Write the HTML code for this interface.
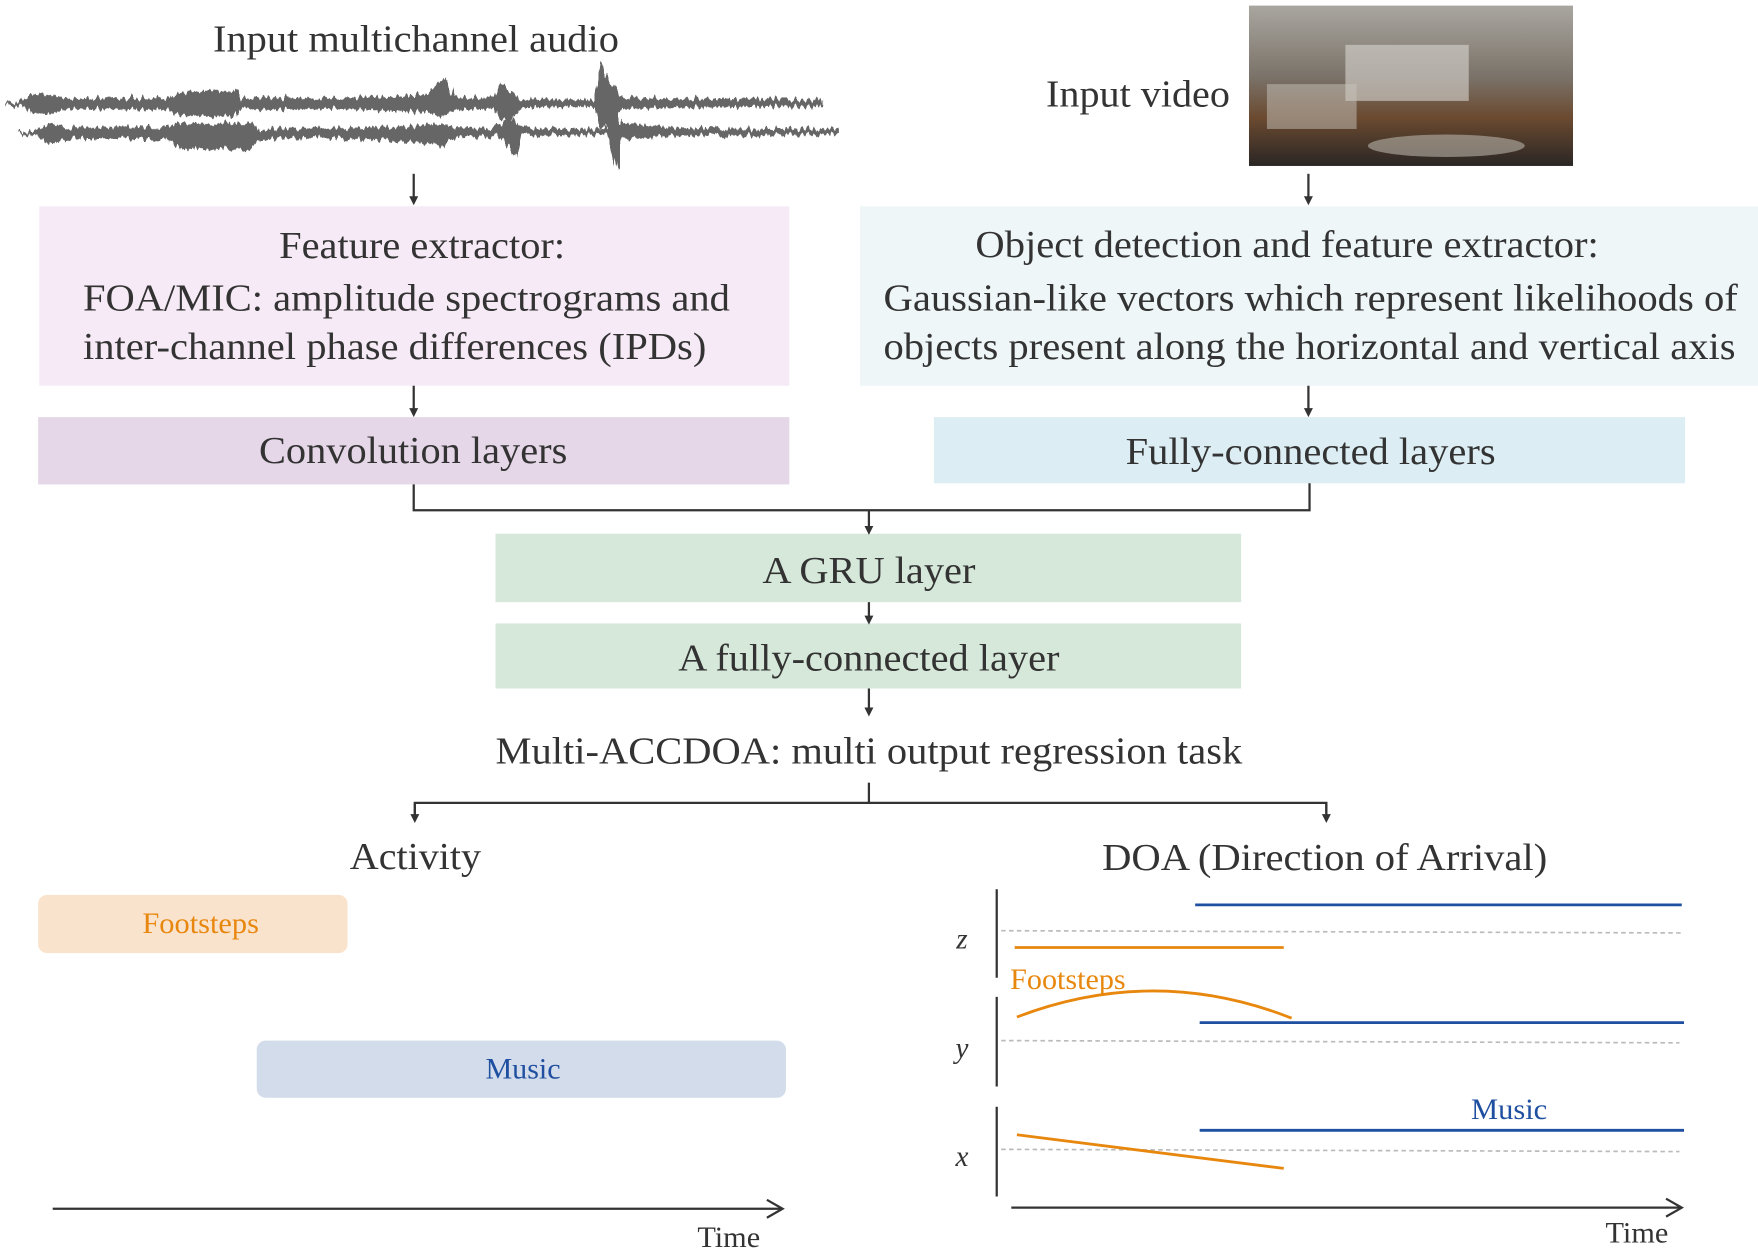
<!DOCTYPE html>
<html><head><meta charset="utf-8"><style>html,body{margin:0;padding:0;background:#fff}svg{display:block}</style></head><body>
<svg width="1758" height="1257" viewBox="0 0 1568 1121" preserveAspectRatio="none" xmlns="http://www.w3.org/2000/svg" font-family="Liberation Serif, serif">
<defs>
<marker id="ah" markerWidth="10" markerHeight="10" refX="5" refY="5" orient="auto" markerUnits="userSpaceOnUse"><path d="M0,1 L8,5 L0,9 Z" fill="#333"/></marker>
<linearGradient id="vid" x1="0" y1="0" x2="0" y2="1"><stop offset="0" stop-color="#a9a6a0"/><stop offset="0.45" stop-color="#7a7268"/><stop offset="0.7" stop-color="#6b4a30"/><stop offset="1" stop-color="#2a2624"/></linearGradient>
<filter id="jag" x="-5%" y="-50%" width="110%" height="200%"><feTurbulence type="fractalNoise" baseFrequency="0.35 0.02" numOctaves="2" seed="3"/><feDisplacementMap in="SourceGraphic" scale="10" xChannelSelector="R" yChannelSelector="G"/></filter>
</defs>
<g fill="#333" font-size="34" text-anchor="middle">
<text x="371" y="46" textLength="362" lengthAdjust="spacingAndGlyphs">Input multichannel audio</text>
<text x="1015" y="95" textLength="164" lengthAdjust="spacingAndGlyphs">Input video</text>
</g>
<!-- waveform -->
<g fill="#666" filter="url(#jag)">
<polygon points="5,92 20,90 30,84 45,83 60,88 150,87 160,82 210,81 215,89 230,87 300,88 350,86 380,84 395,70 405,86 440,88 445,74 455,80 465,89 530,89 535,55 545,75 555,87 600,88 735,89 735,95 600,96 555,97 545,110 535,115 530,95 465,96 455,110 445,105 440,97 405,98 395,104 380,100 350,99 300,97 230,98 215,96 210,104 160,103 150,98 60,97 45,102 30,101 20,95 5,94"/>
<polygon points="18,117 30,116 45,111 60,114 150,113 160,110 225,110 230,115 300,114 360,113 395,110 405,114 440,115 455,105 465,114 540,115 545,85 555,110 600,114 750,115 750,120 600,121 555,125 550,150 545,135 540,120 465,121 460,140 455,133 445,122 405,123 395,130 360,126 300,123 230,124 225,133 160,133 150,124 60,124 45,130 30,120 18,119"/>
</g>
<rect x="1114" y="5" width="289" height="143" fill="url(#vid)"/>
<rect x="1200" y="40" width="110" height="50" fill="#d8d6d0" opacity="0.6"/>
<rect x="1130" y="75" width="80" height="40" fill="#c8c4bc" opacity="0.5"/>
<ellipse cx="1290" cy="130" rx="70" ry="10" fill="#b8b2a8" opacity="0.6"/>
<!-- boxes -->
<rect x="35" y="184" width="669" height="160" fill="#f5eaf5"/>
<rect x="767" y="184" width="801" height="160" fill="#eef6f8"/>
<rect x="34" y="372" width="670" height="60" fill="#e5d7e8"/>
<rect x="833" y="372" width="670" height="59" fill="#dcedf3"/>
<rect x="442" y="476" width="665" height="61" fill="#d6e8da"/>
<rect x="442" y="556" width="665" height="58" fill="#d6e8da"/>
<rect x="34" y="798" width="276" height="52" rx="8" fill="#fae3cc"/>
<rect x="229" y="928" width="472" height="51" rx="8" fill="#d3dcea"/>
<g fill="#333" font-size="34" lengthAdjust="spacingAndGlyphs">
<text x="249" y="230" textLength="255" lengthAdjust="spacingAndGlyphs">Feature extractor:</text>
<text x="74" y="277" textLength="577" lengthAdjust="spacingAndGlyphs">FOA/MIC: amplitude spectrograms and</text>
<text x="74" y="320" textLength="556" lengthAdjust="spacingAndGlyphs">inter-channel phase differences (IPDs)</text>
<text x="870" y="229" textLength="556" lengthAdjust="spacingAndGlyphs">Object detection and feature extractor:</text>
<text x="788" y="277" textLength="762" lengthAdjust="spacingAndGlyphs">Gaussian-like vectors which represent likelihoods of</text>
<text x="788" y="320" textLength="760" lengthAdjust="spacingAndGlyphs">objects present along the horizontal and vertical axis</text>
<text x="231" y="413" textLength="275" lengthAdjust="spacingAndGlyphs">Convolution layers</text>
<text x="1004" y="414" textLength="330" lengthAdjust="spacingAndGlyphs">Fully-connected layers</text>
<text x="680" y="520" textLength="190" lengthAdjust="spacingAndGlyphs">A GRU layer</text>
<text x="605" y="598" textLength="340" lengthAdjust="spacingAndGlyphs">A fully-connected layer</text>
<text x="442" y="681" textLength="666" lengthAdjust="spacingAndGlyphs">Multi-ACCDOA: multi output regression task</text>
<text x="312" y="775" textLength="117" lengthAdjust="spacingAndGlyphs">Activity</text>
<text x="983" y="776" textLength="397" lengthAdjust="spacingAndGlyphs">DOA (Direction of Arrival)</text>
</g>
<!-- connectors -->
<g stroke="#333" stroke-width="2" fill="none">
<line x1="369" y1="155" x2="369" y2="180" marker-end="url(#ah)"/>
<line x1="1167" y1="155" x2="1167" y2="180" marker-end="url(#ah)"/>
<line x1="369" y1="344" x2="369" y2="369" marker-end="url(#ah)"/>
<line x1="1167" y1="344" x2="1167" y2="369" marker-end="url(#ah)"/>
<polyline points="369,432 369,455 1168,455 1168,431"/>
<line x1="775" y1="455" x2="775" y2="474" marker-end="url(#ah)"/>
<line x1="775" y1="537" x2="775" y2="554" marker-end="url(#ah)"/>
<line x1="775" y1="614" x2="775" y2="636" marker-end="url(#ah)"/>
<line x1="775" y1="698" x2="775" y2="716"/>
<polyline points="370,731 370,716 1183,716 1183,731"/>
<line x1="370" y1="716" x2="370" y2="731" marker-end="url(#ah)"/>
<line x1="1183" y1="716" x2="1183" y2="731" marker-end="url(#ah)"/>
<line x1="47" y1="1078" x2="698" y2="1078"/>
<polyline points="684,1070 698,1078 684,1086"/>
<line x1="902" y1="1077" x2="1500" y2="1077"/>
<polyline points="1486,1069 1500,1077 1486,1085"/>
<line x1="889" y1="793" x2="889" y2="872"/>
<line x1="889" y1="889" x2="889" y2="969"/>
<line x1="889" y1="987" x2="889" y2="1067"/>
</g>
<g stroke="#bbb" stroke-width="1.5" stroke-dasharray="4,3">
<line x1="893" y1="830" x2="1500" y2="832"/>
<line x1="893" y1="928" x2="1498" y2="930"/>
<line x1="893" y1="1025" x2="1498" y2="1027"/>
</g>
<g stroke="#1f4fa0" stroke-width="2.5">
<line x1="1066" y1="807" x2="1500" y2="807"/>
<line x1="1070" y1="912" x2="1502" y2="912"/>
<line x1="1070" y1="1008" x2="1502" y2="1008"/>
</g>
<g stroke="#e8870e" stroke-width="2.5" fill="none">
<line x1="905" y1="845" x2="1145" y2="845"/>
<path d="M907,907 Q1030,860 1152,908"/>
<line x1="907" y1="1012" x2="1145" y2="1042"/>
</g>
<g font-size="26">
<text x="127" y="832" fill="#e8870e" textLength="104" lengthAdjust="spacingAndGlyphs">Footsteps</text>
<text x="433" y="962" fill="#1f4fa0" textLength="67" lengthAdjust="spacingAndGlyphs">Music</text>
<text x="901" y="882" fill="#e8870e" textLength="103" lengthAdjust="spacingAndGlyphs">Footsteps</text>
<text x="1312" y="998" fill="#1f4fa0" textLength="68" lengthAdjust="spacingAndGlyphs">Music</text>
<text x="622" y="1112" fill="#333" textLength="56" lengthAdjust="spacingAndGlyphs">Time</text>
<text x="1432" y="1108" fill="#333" textLength="56" lengthAdjust="spacingAndGlyphs">Time</text>
<g font-style="italic" fill="#333" text-anchor="middle">
<text x="858" y="846">z</text><text x="858" y="943">y</text><text x="858" y="1040">x</text>
</g>
</g>
</svg>
</body></html>
